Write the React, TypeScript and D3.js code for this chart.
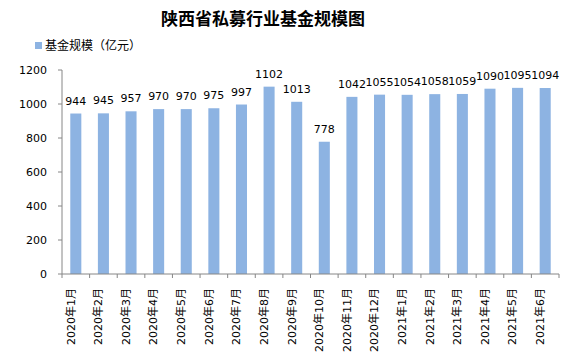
import React from 'react';
import * as d3 from 'd3';

const months = [
  '2020年1月', '2020年2月', '2020年3月', '2020年4月', '2020年5月', '2020年6月',
  '2020年7月', '2020年8月', '2020年9月', '2020年10月', '2020年11月', '2020年12月',
  '2021年1月', '2021年2月', '2021年3月', '2021年4月', '2021年5月', '2021年6月',
];
const fundSize = [944, 945, 957, 970, 970, 975, 997, 1102, 1013, 778, 1042, 1055, 1054, 1058, 1059, 1090, 1095, 1094];
const yTicks = [0, 200, 400, 600, 800, 1000, 1200];

const width = 567;
const height = 360;
const margin = { left: 62, right: 8, top: 70, bottom: 86 };
const numFont = 'DejaVu Sans, Verdana, sans-serif';
const cjkFont = '"Noto Sans CJK SC", "DejaVu Sans", sans-serif';
const mixFont = '"DejaVu Sans", "Noto Sans CJK SC", sans-serif';

const App = () => {
  const x = d3.scaleBand()
    .domain(months)
    .range([margin.left, width - margin.right])
    .paddingInner(0.6)
    .paddingOuter(0.3);
  const y = d3.scaleLinear()
    .domain([0, 1200])
    .range([height - margin.bottom, margin.top]);

  const bottom = y(0);
  // category boundaries for the tick marks
  const edges = months.map((_, i) => margin.left + i * ((width - margin.right - margin.left) / months.length));
  edges.push(width - margin.right);

  return (
    <svg width={width} height={height} style={{ position: 'absolute', left: 0, top: 0, background: '#fff' }}>
      <text x={263} y={25} textAnchor="middle" fontFamily={cjkFont} fontWeight="bold" fontSize={17}>
        陕西省私募行业基金规模图
      </text>

      {/* legend */}
      <rect x={35} y={42} width={7} height={7} fill="#8DB3E2" />
      <text x={45} y={50} fontFamily={cjkFont} fontSize={12}>基金规模（亿元）</text>

      {/* y axis */}
      <line x1={margin.left} x2={margin.left} y1={y(1200)} y2={bottom} stroke="#868686" />
      {yTicks.map(t => (
        <g key={t}>
          <line x1={margin.left - 4} x2={margin.left} y1={y(t)} y2={y(t)} stroke="#868686" />
          <text x={47} y={y(t)} dy="0.35em" textAnchor="end" fontFamily={numFont} fontSize={11}>{t}</text>
        </g>
      ))}

      {/* bars */}
      {fundSize.map((v, i) => {
        const cx = x(months[i]) + x.bandwidth() / 2;
        return (
          <g key={months[i]}>
            <rect x={x(months[i])} y={y(v)} width={x.bandwidth()} height={bottom - y(v)} fill="#8DB3E2" />
            <text x={cx} y={y(v) - 9} textAnchor="middle" fontFamily={numFont} fontSize={11}>{v}</text>
          </g>
        );
      })}

      {/* x axis */}
      <line x1={margin.left} x2={width - margin.right} y1={bottom} y2={bottom} stroke="#868686" />
      {edges.map((e, i) => (
        <line key={i} x1={e} x2={e} y1={bottom} y2={bottom + 4} stroke="#868686" />
      ))}
      {months.map(m => {
        const cx = x(m) + x.bandwidth() / 2 - 5;
        return (
          <text key={m} transform={`translate(${cx},${bottom + 14}) rotate(-90)`} dy="0.35em"
            textAnchor="end" fontFamily={mixFont} fontSize={11}>
            {m}
          </text>
        );
      })}
    </svg>
  );
};

export default App;
